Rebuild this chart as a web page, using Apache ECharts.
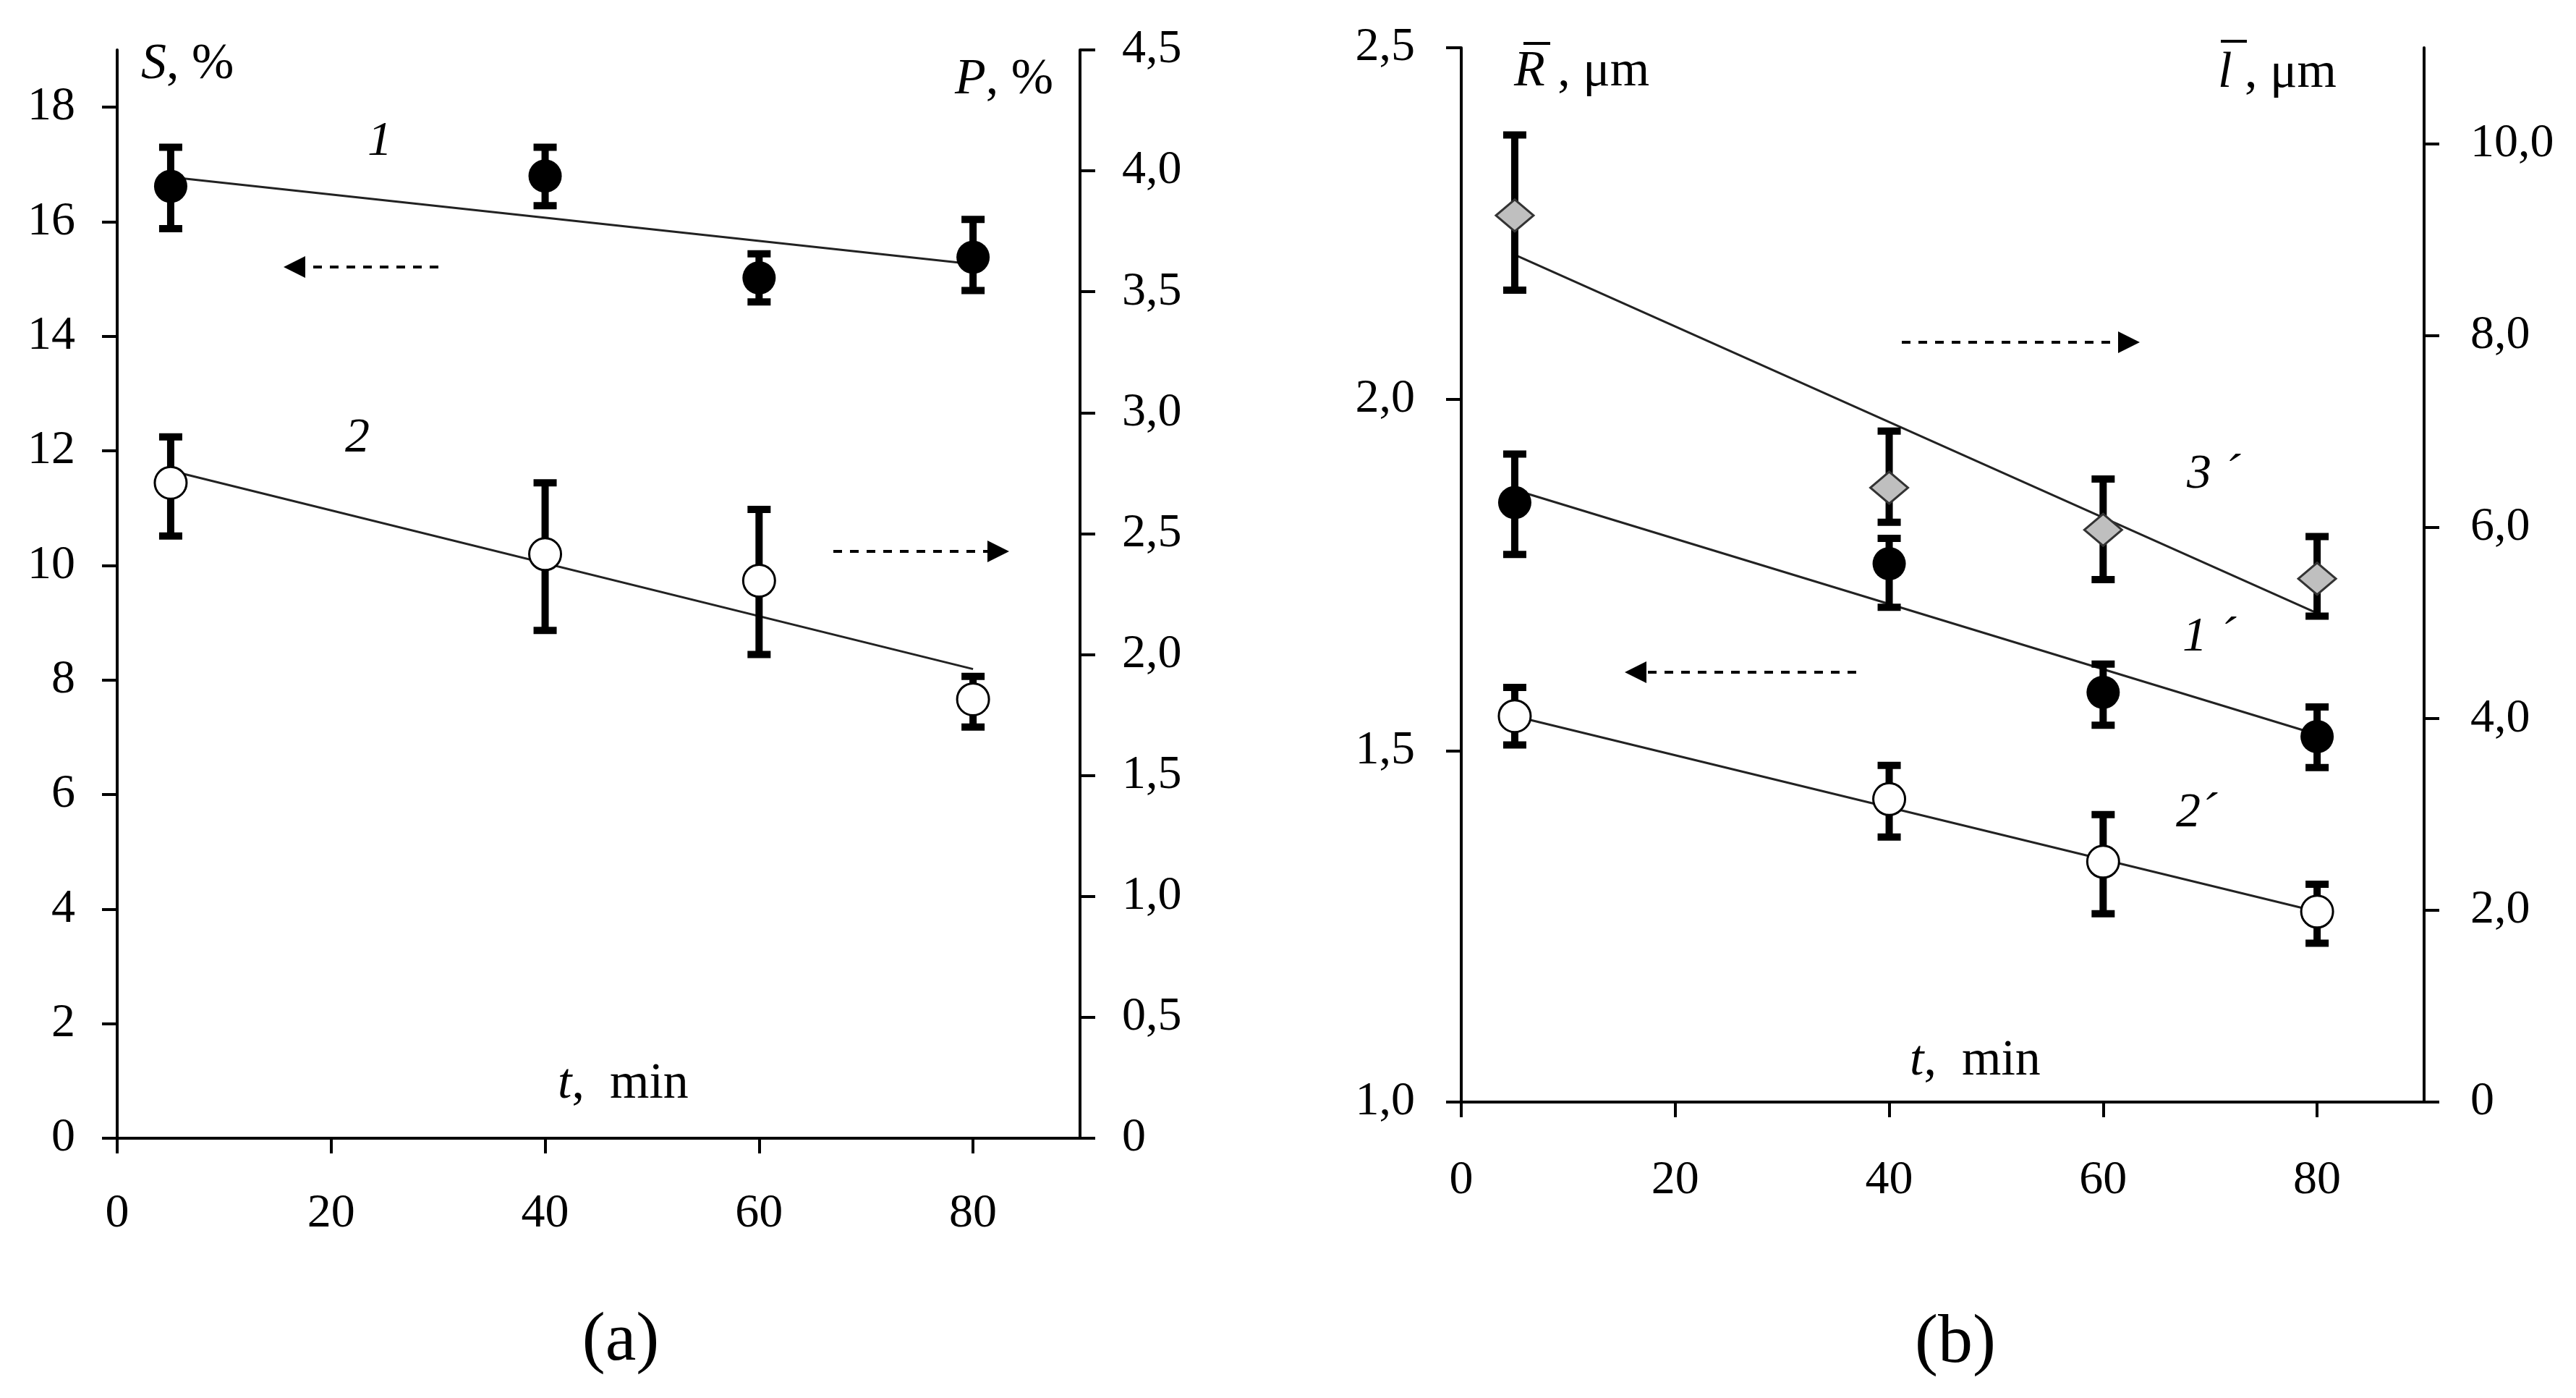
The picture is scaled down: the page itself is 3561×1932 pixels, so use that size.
<!DOCTYPE html>
<html>
<head>
<meta charset="utf-8">
<script src="https://cdn.jsdelivr.net/npm/echarts@6/dist/echarts.min.js"></script>
<style>
  html, body { margin: 0; padding: 0; background: #fff; }
  #main { width: 3561px; height: 1932px; }
</style>
</head>
<body>
<div id="main"></div>
<script>
// sampling times, min
var timeMin = [5, 40, 60, 80];
var fitTime = [5, 80];

// (a) curve 1 : S, % (left axis)
var sVal  = [16.62, 16.80, 15.02, 15.38];
var sLow  = [15.88, 16.28, 14.60, 14.80];
var sHigh = [17.30, 17.30, 15.44, 16.04];
var sFit  = [16.78, 15.26];

// (a) curve 2 : P, % (right axis)
var pVal  = [2.71, 2.415, 2.305, 1.815];
var pLow  = [2.49, 2.10, 2.00, 1.70];
var pHigh = [2.90, 2.71, 2.60, 1.91];
var pFit  = [2.76, 1.94];

// (b) curve 1' : mean R, um (left axis)
var r1Val  = [1.853, 1.766, 1.583, 1.520];
var r1Low  = [1.779, 1.704, 1.536, 1.476];
var r1High = [1.922, 1.802, 1.623, 1.562];
var r1Fit  = [1.871, 1.523];

// (b) curve 2' : mean R, um (left axis)
var r2Val  = [1.549, 1.431, 1.342, 1.271];
var r2Low  = [1.508, 1.377, 1.268, 1.226];
var r2High = [1.590, 1.479, 1.409, 1.310];
var r2Fit  = [1.549, 1.271];

// (b) curve 3' : mean l, um (right axis)
var l3Val  = [9.25, 6.41, 5.97, 5.46];
var l3Low  = [8.47, 6.05, 5.45, 5.07];
var l3High = [10.09, 7.00, 6.50, 5.90];
var l3Fit  = [8.84, 5.10];

// tick values
var tTicks = [0, 20, 40, 60, 80];
var sTicks = [0, 2, 4, 6, 8, 10, 12, 14, 16, 18];
var pTicks = [0, 0.5, 1, 1.5, 2, 2.5, 3, 3.5, 4, 4.5];
var rTicks = [1, 1.5, 2, 2.5];
var lTicks = [0, 2, 4, 6, 8, 10];

var FONT = 'Liberation Serif';

function comma(v) {
    return v === 0 ? '0' : v.toFixed(1).replace('.', ',');
}
function pairs(xs, ys) {
    return xs.map(function (x, i) { return [x, ys[i]]; });
}
function triples(xs, lo, hi) {
    return xs.map(function (x, i) { return [x, lo[i], hi[i]]; });
}

function axisBase(ticks, margin, fmt) {
    return {
        type: 'value',
        splitLine: {show: false},
        axisLine: {show: true, onZero: false, lineStyle: {color: '#000', width: 4}},
        axisTick: {show: true, length: 21, customValues: ticks, lineStyle: {color: '#000', width: 4}},
        axisLabel: {
            customValues: ticks,
            color: '#000', fontFamily: FONT, fontSize: 66, margin: margin,
            formatter: fmt
        }
    };
}
function withRange(base, extra) {
    for (var k in extra) base[k] = extra[k];
    return base;
}

// error bar: vertical stem plus two caps
function errRender(params, api) {
    var x = api.value(0);
    var top = api.coord([x, api.value(2)]);
    var bot = api.coord([x, api.value(1)]);
    var hw = 16;
    var st = {stroke: '#000', lineWidth: 10};
    return {
        type: 'group',
        children: [
            {type: 'line', shape: {x1: top[0], y1: top[1], x2: bot[0], y2: bot[1]}, style: st},
            {type: 'line', shape: {x1: top[0] - hw, y1: top[1], x2: top[0] + hw, y2: top[1]}, style: st},
            {type: 'line', shape: {x1: bot[0] - hw, y1: bot[1], x2: bot[0] + hw, y2: bot[1]}, style: st}
        ]
    };
}

function fitLine(xi, yi, vals) {
    return {
        type: 'line', xAxisIndex: xi, yAxisIndex: yi, data: pairs(fitTime, vals),
        symbol: 'none', silent: true, z: 2,
        lineStyle: {color: '#222', width: 3}
    };
}
function errSeries(xi, yi, lo, hi) {
    return {
        type: 'custom', xAxisIndex: xi, yAxisIndex: yi, renderItem: errRender,
        data: triples(timeMin, lo, hi), encode: {x: 0, y: [1, 2]}, silent: true, z: 3
    };
}
function markSeries(xi, yi, vals, kind) {
    var s = {
        type: 'scatter', xAxisIndex: xi, yAxisIndex: yi, data: pairs(timeMin, vals),
        silent: true, z: 4
    };
    if (kind === 'filled') {
        s.symbol = 'circle'; s.symbolSize = 46;
        s.itemStyle = {color: '#000', opacity: 1};
    } else if (kind === 'open') {
        s.symbol = 'circle'; s.symbolSize = 44;
        s.itemStyle = {color: '#fff', borderColor: '#000', borderWidth: 3, opacity: 1};
    } else {
        s.symbol = 'diamond'; s.symbolSize = [52, 44];
        s.itemStyle = {color: '#bfbfbf', borderColor: '#333', borderWidth: 3, opacity: 1};
    }
    return s;
}

function label(x, y, text, size, align) {
    return {
        type: 'text', x: x, y: y, silent: true,
        style: {
            text: text, fill: '#000', fontFamily: FONT, fontSize: size,
            align: align || 'left', verticalAlign: 'middle',
            rich: {
                i: {fontStyle: 'italic', fontFamily: FONT, fontSize: size, fill: '#000'}
            }
        }
    };
}
function arrow(tail, tip, y) {
    var d = tip > tail ? 1 : -1;
    return {
        type: 'group', silent: true,
        children: [
            {type: 'line', shape: {x1: tail, y1: y, x2: tip - d * 26, y2: y},
             style: {stroke: '#000', lineWidth: 4, lineDash: [12, 11]}},
            {type: 'polygon', shape: {points: [[tip, y], [tip - d * 30, y - 15], [tip - d * 30, y + 15]]},
             style: {fill: '#000'}}
        ]
    };
}
function bar(x1, x2, y) {
    return {type: 'line', silent: true, shape: {x1: x1, y1: y, x2: x2, y2: y},
            style: {stroke: '#000', lineWidth: 4}};
}

var chart = echarts.init(document.getElementById('main'));

var option = {
    animation: false,
    backgroundColor: '#fff',
    grid: [
        {left: 162, right: 2068, top: 69, bottom: 359},
        {left: 2020, right: 210, top: 66, bottom: 409}
    ],
    xAxis: [
        withRange(axisBase(tTicks, 72, function (v) { return String(v); }), {gridIndex: 0, min: 0, max: 90}),
        withRange(axisBase(tTicks, 76, function (v) { return String(v); }), {gridIndex: 1, min: 0, max: 90})
    ],
    yAxis: [
        withRange(axisBase(sTicks, 58, function (v) { return String(v); }), {gridIndex: 0, position: 'left', min: 0, max: 19}),
        withRange(axisBase(pTicks, 58, comma), {gridIndex: 0, position: 'right', min: 0, max: 4.5}),
        withRange(axisBase(rTicks, 64, function (v) { return v.toFixed(1).replace('.', ','); }), {gridIndex: 1, position: 'left', min: 1, max: 2.5}),
        withRange(axisBase(lTicks, 64, comma), {gridIndex: 1, position: 'right', min: 0, max: 11})
    ],
    series: [
        fitLine(0, 0, sFit),
        fitLine(0, 1, pFit),
        fitLine(1, 2, r1Fit),
        fitLine(1, 2, r2Fit),
        fitLine(1, 3, l3Fit),
        errSeries(0, 0, sLow, sHigh),
        errSeries(0, 1, pLow, pHigh),
        errSeries(1, 2, r1Low, r1High),
        errSeries(1, 2, r2Low, r2High),
        errSeries(1, 3, l3Low, l3High),
        markSeries(0, 0, sVal, 'filled'),
        markSeries(0, 1, pVal, 'open'),
        markSeries(1, 3, l3Val, 'diamond'),
        markSeries(1, 2, r1Val, 'filled'),
        markSeries(1, 2, r2Val, 'open')
    ],
    graphic: [
        // panel (a)
        label(195, 90, '{i|S}, %', 70),
        label(1320, 111, '{i|P}, %', 70),
        label(525, 196, '{i|1}', 68, 'center'),
        label(494, 606, '{i|2}', 68, 'center'),
        label(771, 1499, '{i|t},  min', 70),
        label(858, 1854, '(a)', 96, 'center'),
        arrow(606, 392, 369),
        arrow(1152, 1395, 762),
        // panel (b)
        label(2093, 100, '{i|R} , μm', 70),
        bar(2106, 2143, 60),
        label(3066, 102, '{i|l} , μm', 70),
        bar(3070, 3106, 57),
        label(3023, 656, '{i|3 ´}', 68),
        label(3017, 881, '{i|1 ´}', 68),
        label(3008, 1124, '{i|2´}', 68),
        label(2640, 1467, '{i|t},  min', 70),
        label(2703, 1857, '(b)', 96, 'center'),
        arrow(2629, 2958, 473),
        arrow(2566, 2246, 929)
    ]
};

chart.setOption(option);
</script>
</body>
</html>
